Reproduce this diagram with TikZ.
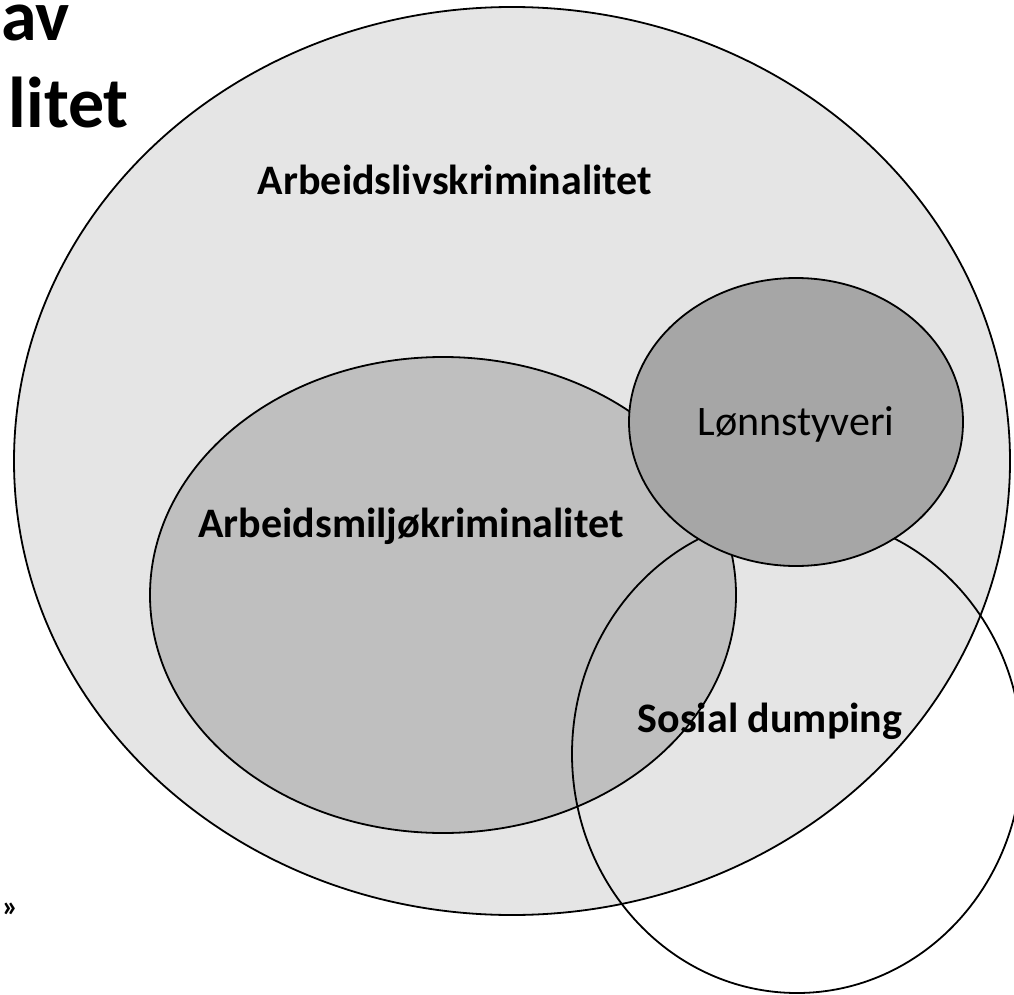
\documentclass[tikz,border=0pt]{standalone}
\usepackage{fontspec}
\setmainfont{Carlito}
\usetikzlibrary{shapes.geometric}
\definecolor{outer}{gray}{0.90}
\definecolor{middle}{gray}{0.75}
\definecolor{inner}{gray}{0.65}
\tikzset{
  blob/.style={ellipse, draw=black, line width=1.8pt, inner sep=0pt},
  lbl/.style={inner sep=0pt, anchor=base, font=\fontsize{42}{50}\selectfont},
  boldlbl/.style={lbl, font=\fontsize{42}{50}\selectfont\bfseries},
  title/.style={inner sep=0pt, font=\fontsize{72}{86}\selectfont\bfseries},
}
\begin{document}
\begin{tikzpicture}[x=1pt, y=-1pt]
\useasboundingbox (0,0) rectangle (1014,995);
\clip (0,0) rectangle (1014,995);
\node[blob, fill=outer, minimum width=996pt, minimum height=908pt] (big) at (512,461) {};
\node[blob, fill=middle, minimum width=586pt, minimum height=476pt] (mid) at (443,595) {};
\node[blob, minimum width=450pt, minimum height=478pt] (sos) at (797,754) {};
\node[blob, fill=inner, minimum width=334pt, minimum height=288pt] (lonn) at (796,422) {};
\node[lbl] (lonnt) at (796,435) {Lønnstyveri};
\node[boldlbl] (bigt) at (455,194) {Arbeidslivskriminalitet};
\node[boldlbl] (midt) at (411,537) {Arbeidsmiljøkriminalitet};
\node[boldlbl] (sost) at (770,732) {Sosial dumping};
\node[title, anchor=base west] (t1) at (1,41) {av};
\node[title, anchor=base east] (t2) at (129,128) {litet};
\node[inner sep=0pt, anchor=base west, font=\fontsize{30}{36}\selectfont\bfseries] (arr) at (2,916) {»};
\end{tikzpicture}
\end{document}
